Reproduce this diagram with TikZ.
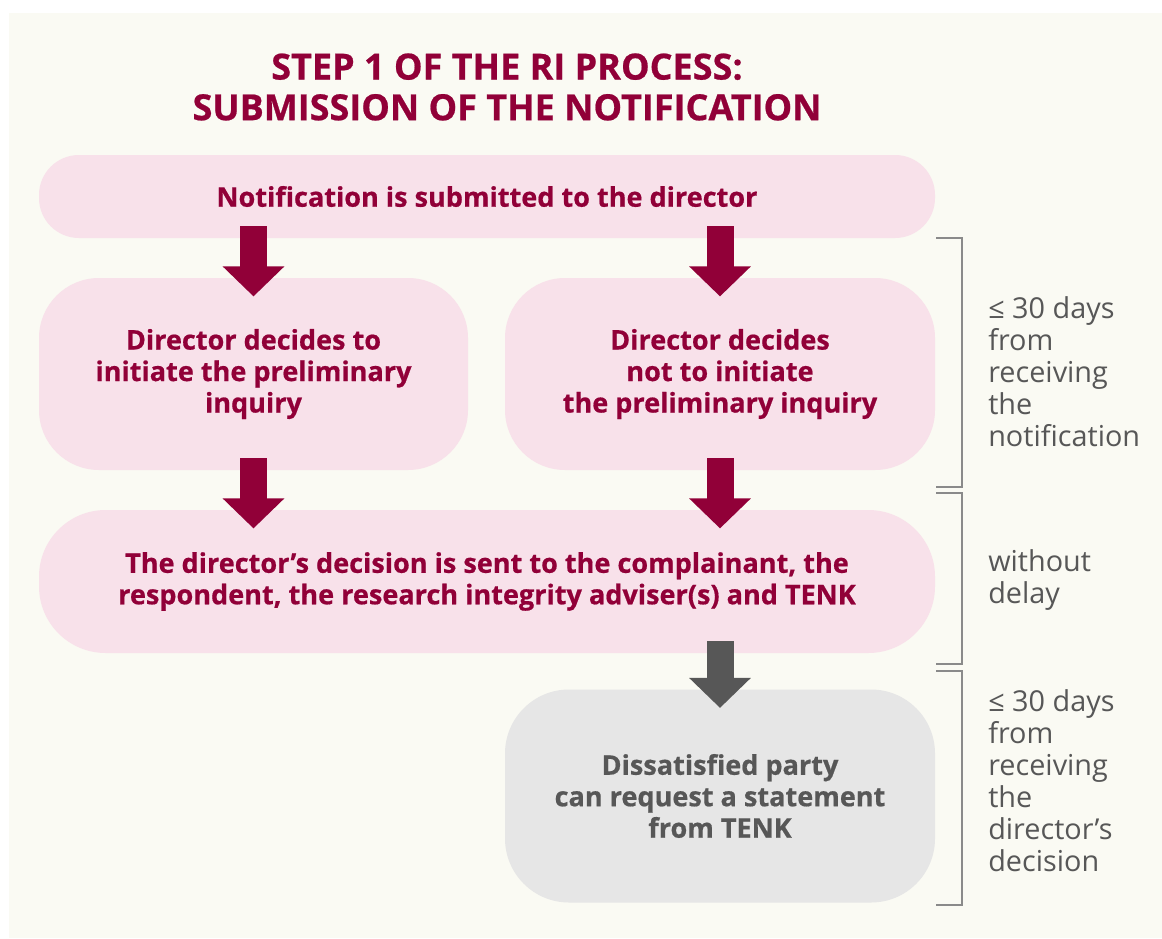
\documentclass[tikz,border=0pt]{standalone}
\usepackage{fontspec}
\setmainfont{Open Sans}[BoldFeatures={FakeBold=0.6}]
\usetikzlibrary{arrows.meta, calc}
\definecolor{crimson}{HTML}{910038}
\definecolor{pinkbox}{HTML}{F8E1EA}
\definecolor{greybox}{HTML}{E6E6E6}
\definecolor{darkgrey}{HTML}{575757}
\definecolor{cream}{HTML}{FAFAF3}
\definecolor{bracketgrey}{HTML}{8A8A8A}

\begin{document}
\begin{tikzpicture}
                [x=0.75pt, y=-0.75pt,
                bsty/.style={rectangle, fill=pinkbox, text=crimson, align=center, inner sep=0pt,
                             font=\bfseries\fontsize{20.3}{23.6}\selectfont},
                gsty/.style={bsty, fill=greybox, text=darkgrey},
                asty/.style={line width=20.25pt, draw=crimson, -{Triangle[width=45pt, length=22.5pt]},
                             shorten <=-9pt, shorten >=-14pt},
                gasty/.style={asty, draw=darkgrey},
                lsty/.style={anchor=west, align=left, inner sep=0pt, text=darkgrey,
                             font=\fontsize{21.6}{24}\selectfont},
                ksty/.style={draw=bracketgrey, line width=1.1pt}]
                % canvas
                \useasboundingbox (0,0) rectangle (1162,938);
                \fill[white] (0,0) rectangle (1162,938);
                \fill[cream] (9,13) rectangle (1162,938);
                % title
                \node[align=center, text=crimson, inner sep=0pt, font=\bfseries\fontsize{27}{30.5}\selectfont]
                    (title) at (507,87) {STEP 1 OF THE RI PROCESS:\\SUBMISSION OF THE NOTIFICATION};
                % nodes
                \node[bsty, minimum width=672pt, minimum height=62.25pt, rounded corners=30pt]
                    (note) at (487,196.5) {Notification is submitted to the director};
                \node[bsty, minimum width=321.75pt, minimum height=144pt, rounded corners=45pt]
                    (initl) at (253.5,374) {Director decides to\\initiate the preliminary\\inquiry};
                \node[bsty, minimum width=322.5pt, minimum height=144pt, rounded corners=45pt]
                    (noinit) at (720,374) {Director decides\\not to initiate\\the preliminary inquiry};
                \node[bsty, minimum width=672pt, minimum height=107.25pt, rounded corners=50pt]
                    (sent) at (487,581.5) {The director’s decision is sent to the complainant, the\\respondent, the research integrity adviser(s) and TENK};
                \node[gsty, minimum width=322.5pt, minimum height=159.75pt, rounded corners=48pt]
                    (tenk) at (720,796) {Dissatisfied party\\can request a statement\\from TENK};
                % arrows
                \draw[asty] (note.south -| initl.north) -- (initl.north);
                \draw[asty] (note.south -| noinit.north) -- (noinit.north);
                \draw[asty] (initl.south) -- (initl.south |- sent.north);
                \draw[asty] (noinit.south) -- (noinit.south |- sent.north);
                \draw[gasty] (sent.south -| tenk.north) -- (tenk.north);
                % brackets
                \draw[ksty] (936,238) -- (962,238) -- (962,487) -- (936,487);
                \draw[ksty] (936,493) -- (962,493) -- (962,664) -- (936,664);
                \draw[ksty] (936,671) -- (962,671) -- (962,905) -- (936,905);
                % labels
                \node[lsty] (days1) at (988,372) {≤ 30 days\\from\\receiving\\the\\notification};
                \node[lsty] (delay) at (988,580) {without\\delay};
                \node[lsty] (days2) at (988,781) {≤ 30 days\\from\\receiving\\the\\director’s\\decision};
\end{tikzpicture}
\end{document}
